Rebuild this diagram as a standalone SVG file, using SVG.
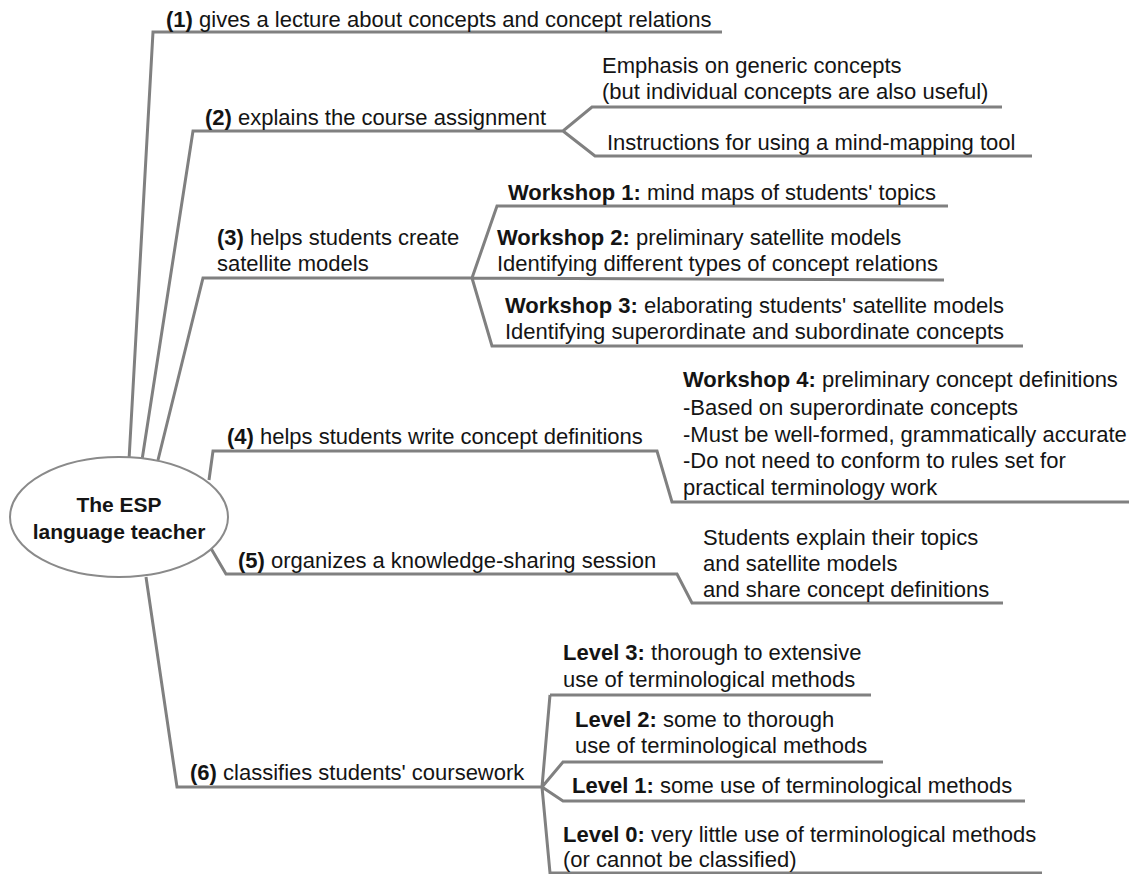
<svg xmlns="http://www.w3.org/2000/svg" width="1129" height="874" viewBox="0 0 1129 874">
<style>
.l{fill:none;stroke:#808080;stroke-width:3;stroke-linejoin:miter}
text{font-family:"Liberation Sans",Arial,sans-serif;font-size:22px;fill:#141414}
.b{font-weight:bold}
.c{font-size:21px;font-weight:bold;text-anchor:middle}
</style>
<rect width="1129" height="874" fill="#fff"/>
<g id="connectors">
<path class="l" d="M129,460 L153,32 L722,32"/>
<path class="l" d="M142,460 L193,131 L563,131 L592,107 L1002,107 M563,131 L595,156 L1032,156"/>
<path class="l" d="M158,460 L203,278 L472,278 L497,206 L948,206 M472,278 L944,280 M472,278 L492,346 L1023,346"/>
<path class="l" d="M209,480 L213,451 L657,451 L672,502 L1129,502"/>
<path class="l" d="M209,545 L226,574 L677,574 L692,603 L1003,603"/>
<path class="l" d="M146,577 L177,787 L542,787 M550,695 L871,695 M550,695 L542,787 L550,873 L1042,873 M542,787 L563,762 L883,762 M542,787 L563,801 L1025,801"/>
</g>
<g id="center">
<ellipse cx="119" cy="517" rx="109" ry="60" fill="#fff" stroke="#8a8a8a" stroke-width="2"/>
<text class="c" x="119" y="512">The ESP</text>
<text class="c" x="119" y="539">language teacher</text>
</g>
<g id="n1"><text x="166" y="27"><tspan class="b">(1)</tspan> gives a lecture about concepts and concept relations</text></g>
<g id="n2"><text x="205" y="125"><tspan class="b">(2)</tspan> explains the course assignment</text></g>
<g id="n2a"><text x="602" y="73">Emphasis on generic concepts</text><text x="602" y="99">(but individual concepts are also useful)</text></g>
<g id="n2b"><text x="607" y="150">Instructions for using a mind-mapping tool</text></g>
<g id="n3"><text x="217" y="245"><tspan class="b">(3)</tspan> helps students create</text><text x="217" y="271">satellite models</text></g>
<g id="n3a"><text x="508" y="200"><tspan class="b">Workshop 1:</tspan> mind maps of students' topics</text></g>
<g id="n3b"><text x="497" y="245"><tspan class="b">Workshop 2:</tspan> preliminary satellite models</text><text x="497" y="271">Identifying different types of concept relations</text></g>
<g id="n3c"><text x="505" y="313"><tspan class="b">Workshop 3:</tspan> elaborating students' satellite models</text><text x="505" y="339">Identifying superordinate and subordinate concepts</text></g>
<g id="n4"><text x="227" y="444"><tspan class="b">(4)</tspan> helps students write concept definitions</text></g>
<g id="n4a">
<text x="683" y="387"><tspan class="b">Workshop 4:</tspan> preliminary concept definitions</text>
<text x="683" y="415">-Based on superordinate concepts</text>
<text x="683" y="442">-Must be well-formed, grammatically accurate</text>
<text x="683" y="468">-Do not need to conform to rules set for</text>
<text x="683" y="495">practical terminology work</text>
</g>
<g id="n5"><text x="238" y="568"><tspan class="b">(5)</tspan> organizes a knowledge-sharing session</text></g>
<g id="n5a"><text x="703" y="545">Students explain their topics</text><text x="703" y="571">and satellite models</text><text x="703" y="597">and share concept definitions</text></g>
<g id="n6"><text x="190" y="780"><tspan class="b">(6)</tspan> classifies students' coursework</text></g>
<g id="n6a"><text x="563" y="660"><tspan class="b">Level 3:</tspan> thorough to extensive</text><text x="563" y="687">use of terminological methods</text></g>
<g id="n6b"><text x="575" y="727"><tspan class="b">Level 2:</tspan> some to thorough</text><text x="575" y="753">use of terminological methods</text></g>
<g id="n6c"><text x="572" y="793"><tspan class="b">Level 1:</tspan> some use of terminological methods</text></g>
<g id="n6d"><text x="563" y="842"><tspan class="b">Level 0:</tspan> very little use of terminological methods</text><text x="563" y="867">(or cannot be classified)</text></g>
</svg>
